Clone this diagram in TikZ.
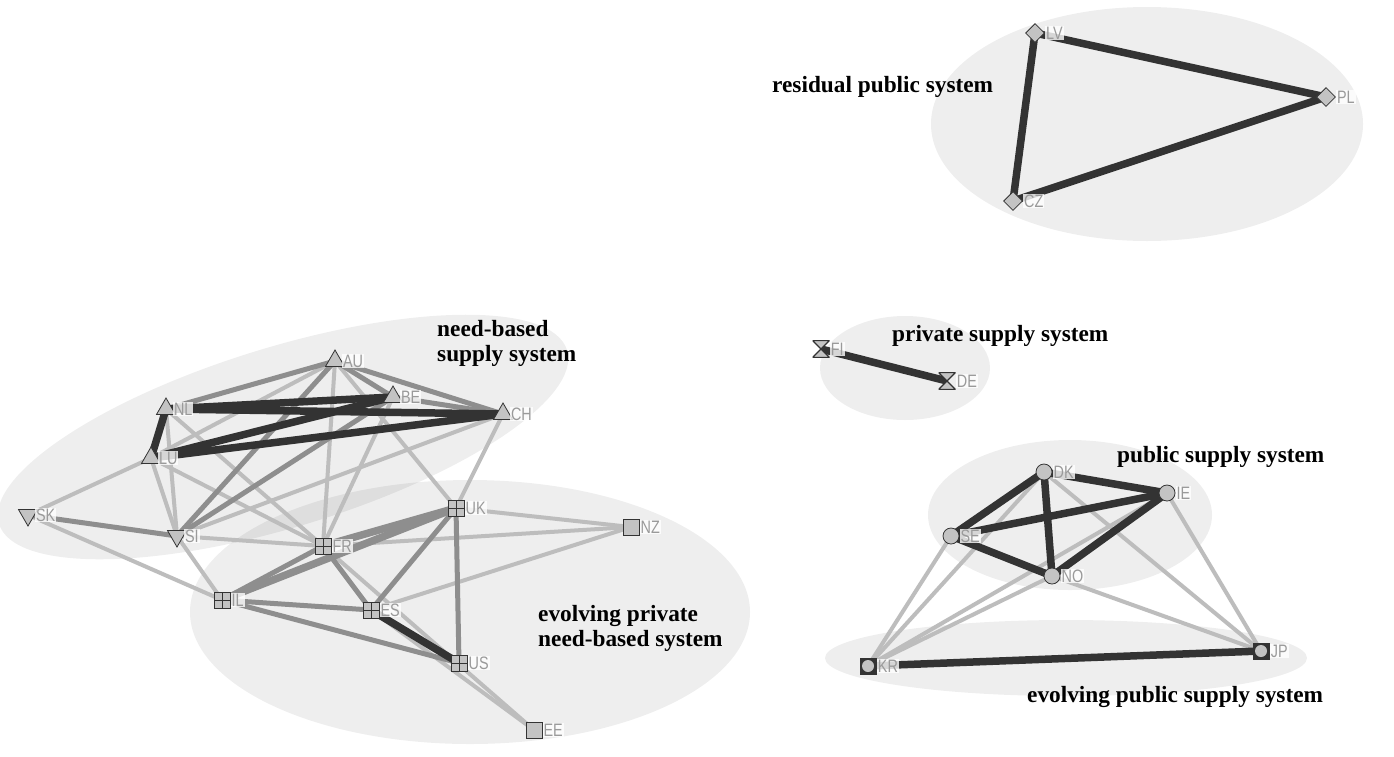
\documentclass[tikz,border=0pt]{standalone}
\usepackage{fontspec}
\newfontfamily\lblfont[FakeStretch=0.8]{Liberation Sans}
\newfontfamily\grpfont{Liberation Serif}
\usetikzlibrary{shapes.geometric}
\pgfdeclarelayer{blobs}
\pgfdeclarelayer{links}
\pgfsetlayers{blobs,links,main}
\definecolor{ndraw}{HTML}{333333}
\definecolor{nfill}{HTML}{C3C3C3}
\definecolor{edark}{HTML}{333333}
\definecolor{emid}{HTML}{8E8E8E}
\definecolor{elite}{HTML}{BDBDBD}
\definecolor{lblgray}{HTML}{9A9A9A}
\begin{document}
\begin{tikzpicture}[x=1pt,y=-1pt,
  blob/.style={fill=black, fill opacity=0.065},
  grp/.style={font=\grpfont\bfseries\fontsize{23.3}{25}\selectfont, align=left, inner sep=0pt, anchor=west},
  lbl/.style={text=lblgray, font=\lblfont\fontsize{18}{19}\selectfont, fill=white, fill opacity=0.8, text opacity=1, inner sep=1pt},
  nd/.style={draw=ndraw, fill=nfill, line width=0.8pt, inner sep=0pt, label distance=1pt},
  tup/.style={nd, regular polygon, regular polygon sides=3, minimum size=22pt, label distance=4pt},
  tdn/.style={tup, shape border rotate=180},
  gsq/.style={nd, rectangle, minimum size=16pt, path picture={\draw[ndraw, line width=0.8pt] (path picture bounding box.north) -- (path picture bounding box.south) (path picture bounding box.west) -- (path picture bounding box.east);}},
  psq/.style={nd, rectangle, minimum size=16pt},
  dia/.style={nd, diamond, minimum size=19pt},
  crc/.style={nd, circle, minimum size=16pt},
  bxc/.style={rectangle, fill=ndraw, minimum size=17pt, inner sep=0pt, label distance=1pt, path picture={\fill[nfill] (path picture bounding box.center) circle[radius=6pt];}},
  hgl/.style={rectangle, minimum width=17pt, minimum height=17pt, inner sep=0pt, label distance=1pt, path picture={\filldraw[fill=nfill, draw=ndraw, line width=1.2pt] (path picture bounding box.north west) -- (path picture bounding box.north east) -- (path picture bounding box.south west) -- (path picture bounding box.south east) -- cycle;}},
  dk/.style={draw=edark, line width=7.5pt},
  md/.style={draw=emid, line width=5pt},
  mdw/.style={draw=emid, line width=7.5pt},
  lt/.style={draw=elite, line width=4pt}]
\useasboundingbox (0,0) rectangle (1394,756);

% clusters
\begin{pgfonlayer}{blobs}
\fill[white] (0,0) rectangle (1394,756);
\fill[blob] (1147,124) ellipse [x radius=216, y radius=117];
\fill[blob, rotate around={17:(283,437)}] (283,437) ellipse [x radius=297, y radius=90];
\fill[blob] (470,612) ellipse [x radius=280, y radius=132];
\fill[blob] (905,368) ellipse [x radius=85, y radius=52];
\fill[blob] (1070,515) ellipse [x radius=142, y radius=75];
\fill[blob] (1066,658) ellipse [x radius=241, y radius=38];
\end{pgfonlayer}

% countries
\node[tup, label={[lbl]right:AU}] (AU) at (335,361) {};
\node[tup, label={[lbl]right:NL}] (NL) at (166,409) {};
\node[tup, label={[lbl]right:BE}] (BE) at (393,397) {};
\node[tup, label={[lbl]right:CH}] (CH) at (503,414) {};
\node[tup, label={[lbl]right:LU}] (LU) at (151,458) {};
\node[tdn, label={[lbl]right:SK}] (SK) at (28,515) {};
\node[tdn, label={[lbl]right:SI}] (SI) at (177,536) {};
\node[gsq, label={[lbl]right:FR}] (FR) at (323,546) {};
\node[gsq, label={[lbl]right:UK}] (UK) at (456,508) {};
\node[gsq, label={[lbl]right:IL}] (IL) at (222,600) {};
\node[gsq, label={[lbl]right:ES}] (ES) at (371,610) {};
\node[gsq, label={[lbl]right:US}] (US) at (459,663) {};
\node[psq, label={[lbl]right:NZ}] (NZ) at (631,527) {};
\node[psq, label={[lbl]right:EE}] (EE) at (534,730) {};
\node[dia, label={[lbl]right:LV}] (LV) at (1035,33) {};
\node[dia, label={[lbl]right:PL}] (PL) at (1326,97) {};
\node[dia, label={[lbl]right:CZ}] (CZ) at (1013,201) {};
\node[hgl, label={[lbl]right:FI}] (FI) at (821,349) {};
\node[hgl, label={[lbl]right:DE}] (DE) at (947,381) {};
\node[crc, label={[lbl]right:DK}] (DK) at (1044,472) {};
\node[crc, label={[lbl]right:IE}] (IE) at (1167,493) {};
\node[crc, label={[lbl]right:SE}] (SE) at (951,536) {};
\node[crc, label={[lbl]right:NO}] (NO) at (1052,576) {};
\node[bxc, label={[lbl]right:KR}] (KR) at (868,666) {};
\node[bxc, label={[lbl]right:JP}] (JP) at (1261,651) {};

% ties
\begin{pgfonlayer}{links}
\foreach \a/\b in {AU/LU, AU/UK, AU/FR, NL/FR, NL/SI, LU/SI, LU/SK, LU/FR, SI/CH, SI/FR, SI/IL, SK/IL, CH/UK, BE/FR, UK/NZ, FR/NZ, ES/NZ, FR/EE, ES/EE, SE/KR, DK/KR, IE/KR, NO/KR, DK/JP, NO/JP, IE/JP}
  \draw[lt] (\a.center) -- (\b.center);
\foreach \a/\b in {AU/NL, AU/BE, AU/CH, BE/CH, AU/SI, BE/SI, SK/SI, IL/FR, IL/ES, IL/US, FR/ES, UK/ES, UK/US}
  \draw[md] (\a.center) -- (\b.center);
\foreach \a/\b in {FR/UK, IL/UK}
  \draw[mdw] (\a.center) -- (\b.center);
\foreach \a/\b in {NL/BE, NL/CH, LU/BE, LU/CH, NL/LU, ES/US, LV/PL, LV/CZ, CZ/PL, FI/DE, DK/IE, DK/SE, DK/NO, SE/IE, SE/NO, NO/IE, KR/JP}
  \draw[dk] (\a.center) -- (\b.center);
\end{pgfonlayer}

% cluster names
\node[grp] (resid) at (772,87) {residual public system};
\node[grp] (needb) at (437,343) {need-based\\supply system};
\node[grp] (priv) at (892,336) {private supply system};
\node[grp] (publ) at (1117,457) {public supply system};
\node[grp] (evpriv) at (538,628) {evolving private\\need-based system};
\node[grp] (evpubl) at (1027,697) {evolving public supply system};
\end{tikzpicture}
\end{document}
